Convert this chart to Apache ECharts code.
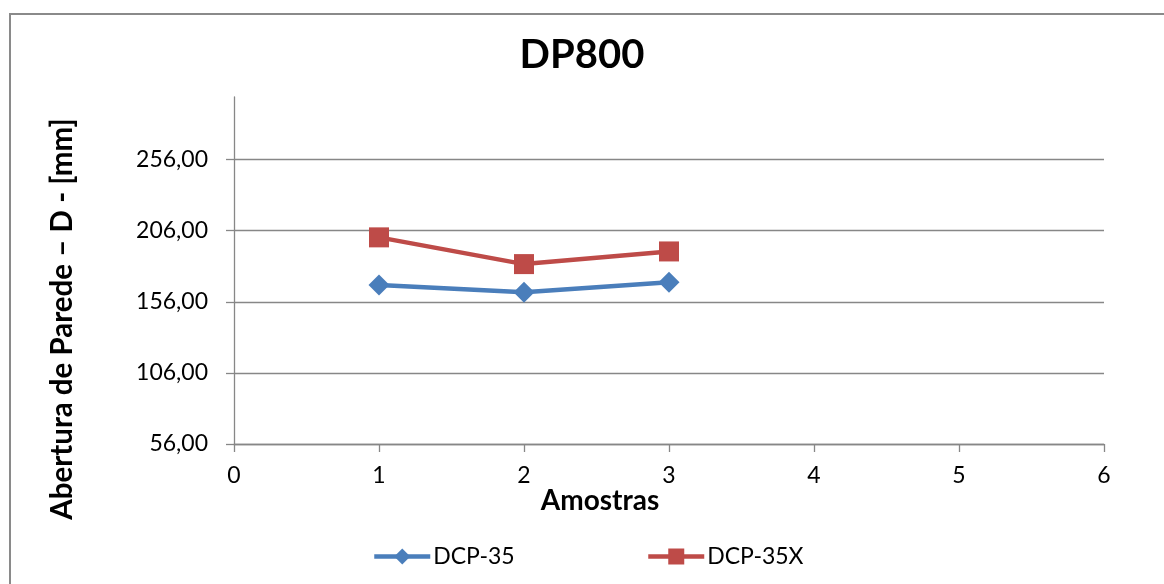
<!DOCTYPE html>
<html>
<head>
<meta charset="utf-8">
<script src="https://cdn.jsdelivr.net/npm/echarts@6/dist/echarts.min.js"></script>
<style>
  html, body { margin: 0; padding: 0; background: #ffffff; }
  #chart { width: 1164px; height: 584px; }
</style>
</head>
<body>
<div id="chart"></div>
<script>
// Sample numbers (x) and measured wall opening D in mm for each punch
const samples = [1, 2, 3];
const dcp35 = [167.8, 162.7, 169.7];
const dcp35x = [201.3, 182.5, 191.4];
const yTicks = [56, 106, 156, 206, 256];
const seriesNames = ['DCP-35', 'DCP-35X'];

const FONT = 'Lato, "Open Sans", sans-serif';
const GRID_GRAY = '#878787';
const BLUE = '#4a7ebb';
const RED = '#be4b48';

const chart = echarts.init(document.getElementById('chart'), null, { renderer: 'canvas' });

const fmt = v => v.toFixed(2).replace('.', ',');

const legendItem = (name, left, color) => ({
  data: [name],
  left: left, top: 545, padding: 0,
  itemWidth: 56, itemHeight: 20, itemGap: 0,
  lineStyle: { width: 4.5, color: color },
  textStyle: { fontFamily: FONT, fontSize: 23, color: '#000000', padding: [0, 0, 0, -2] }
});

chart.setOption({
  animation: false,
  backgroundColor: '#ffffff',
  title: {
    text: 'DP800',
    left: 577,
    top: 30,
    textAlign: 'center',
    textStyle: { fontFamily: FONT, fontWeight: 'bold', fontSize: 40, color: '#000000' }
  },
  legend: [
    legendItem(seriesNames[0], 372, BLUE),
    legendItem(seriesNames[1], 646, RED)
  ],
  grid: { left: 234, right: 60, top: 97, bottom: 140, containLabel: false },
  xAxis: {
    type: 'value',
    min: 0, max: 6, interval: 1,
    axisLine: { show: true, onZero: false, lineStyle: { color: GRID_GRAY, width: 1.3 } },
    axisTick: { show: true, inside: false, length: 8, lineStyle: { color: GRID_GRAY, width: 1.3 } },
    axisLabel: { margin: 20, fontFamily: FONT, fontSize: 23, color: '#000000' },
    splitLine: { show: false }
  },
  yAxis: {
    type: 'value',
    min: 56, max: 300,
    axisLine: { show: true, lineStyle: { color: GRID_GRAY, width: 1.3 } },
    axisTick: { show: true, inside: false, length: 8, customValues: yTicks, lineStyle: { color: GRID_GRAY, width: 1.3 } },
    axisLabel: { customValues: yTicks, margin: 26, fontFamily: FONT, fontSize: 23, color: '#000000', formatter: v => fmt(v) },
    splitLine: { show: true, lineStyle: { color: GRID_GRAY, width: 1.3 } }
  },
  graphic: [
    {
      type: 'rect',
      shape: { x: 10, y: 14, width: 1300, height: 700 },
      style: { fill: 'none', stroke: '#8a8a8a', lineWidth: 2 },
      silent: true, z: -1
    },
    {
      type: 'text',
      x: 600, y: 501,
      style: {
        text: 'Amostras', fontFamily: FONT, fontWeight: 'bold', fontSize: 28,
        fill: '#000000', align: 'center', verticalAlign: 'middle'
      }
    },
    {
      type: 'text',
      x: 62, y: 319,
      rotation: Math.PI / 2,
      style: {
        text: 'Abertura de Parede – D - [mm]', fontFamily: FONT, fontWeight: 'bold', fontSize: 29.5,
        fill: '#000000', align: 'center', verticalAlign: 'middle'
      }
    }
  ],
  series: [
    {
      name: seriesNames[0],
      type: 'line',
      data: samples.map((x, i) => [x, dcp35[i]]),
      symbol: 'diamond', symbolSize: 21,
      color: BLUE,
      lineStyle: { color: BLUE, width: 4.5 },
      itemStyle: { color: BLUE }
    },
    {
      name: seriesNames[1],
      type: 'line',
      data: samples.map((x, i) => [x, dcp35x[i]]),
      symbol: 'rect', symbolSize: 20,
      color: RED,
      lineStyle: { color: RED, width: 4.5 },
      itemStyle: { color: RED }
    }
  ]
});
</script>
</body>
</html>
